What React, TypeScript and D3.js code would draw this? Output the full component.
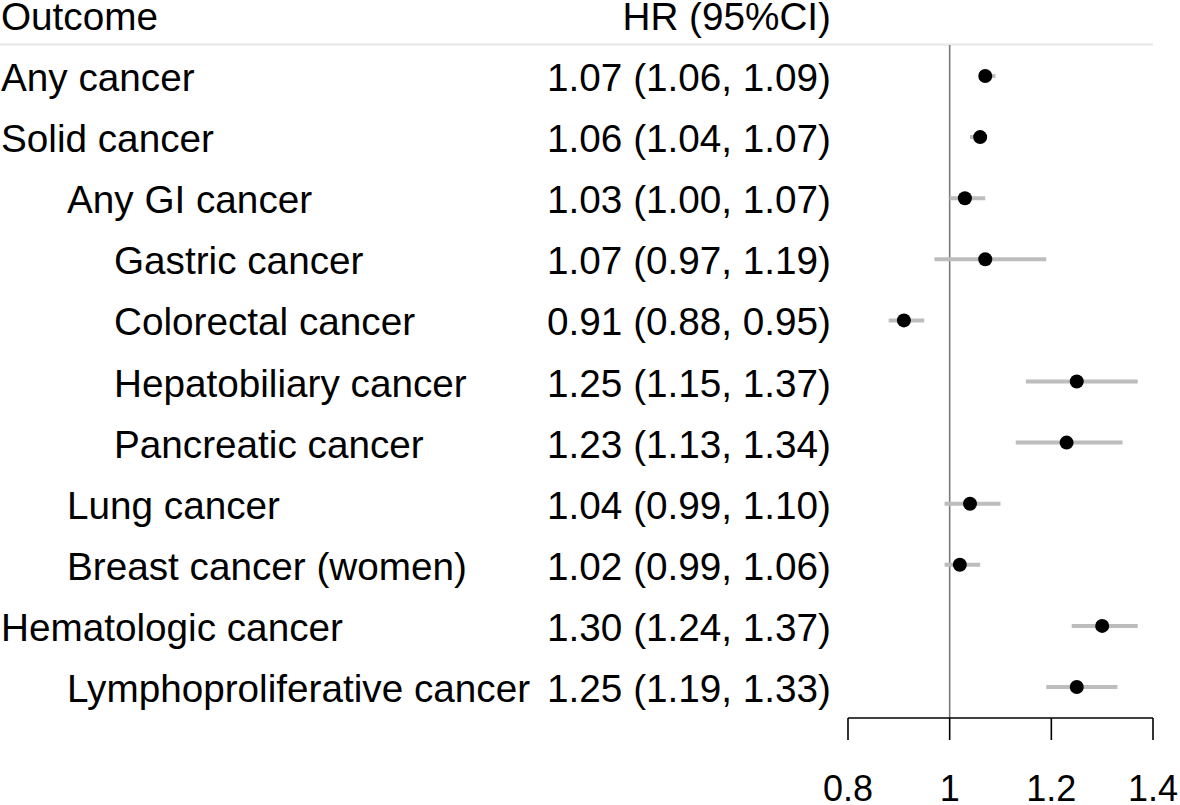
import React from "react";
import * as d3 from "d3";

const outcomes = [
  "Any cancer",
  "Solid cancer",
  "Any GI cancer",
  "Gastric cancer",
  "Colorectal cancer",
  "Hepatobiliary cancer",
  "Pancreatic cancer",
  "Lung cancer",
  "Breast cancer (women)",
  "Hematologic cancer",
  "Lymphoproliferative cancer",
];
const indentLevels = [0, 0, 1, 2, 2, 2, 2, 1, 1, 0, 1];
const hr = [1.07, 1.06, 1.03, 1.07, 0.91, 1.25, 1.23, 1.04, 1.02, 1.3, 1.25];
const lower = [1.06, 1.04, 1.0, 0.97, 0.88, 1.15, 1.13, 0.99, 0.99, 1.24, 1.19];
const upper = [1.09, 1.07, 1.07, 1.19, 0.95, 1.37, 1.34, 1.1, 1.06, 1.37, 1.33];
const hrLabels = [
  "1.07 (1.06, 1.09)",
  "1.06 (1.04, 1.07)",
  "1.03 (1.00, 1.07)",
  "1.07 (0.97, 1.19)",
  "0.91 (0.88, 0.95)",
  "1.25 (1.15, 1.37)",
  "1.23 (1.13, 1.34)",
  "1.04 (0.99, 1.10)",
  "1.02 (0.99, 1.06)",
  "1.30 (1.24, 1.37)",
  "1.25 (1.19, 1.33)",
];
const xTicks = [0.8, 1, 1.2, 1.4];
const headers = ["Outcome", "HR (95%CI)"];

const W = 1180;
const H = 805;
const FONT = "'Liberation Sans', Arial, Helvetica, sans-serif";

export default function App() {
  const n = outcomes.length;
  const x = d3.scaleLinear().domain([0.8, 1.4]).range([848, 1153]);
  const y = d3.scaleLinear().domain([0, n - 1]).range([76, 76 + 61.1 * (n - 1)]);
  const indentX = d3.scaleOrdinal<number, number>().domain([0, 1, 2]).range([1, 67, 114]);
  const axisY = 718;
  const tickLen = 22;
  const fmt = (v: number) => (v === 1 ? "1" : d3.format(".1f")(v));
  const fs = 38.7;

  return (
    <svg
      width={W}
      height={H}
      style={{ position: "absolute", left: 0, top: 0, display: "block", background: "#fff" }}
      fontFamily={FONT}
    >
      <rect x={0} y={0} width={W} height={H} fill="#fff" />
      {/* header */}
      <text x={1} y={30} fontSize={fs} fill="#000">
        {headers[0]}
      </text>
      <text x={831} y={30} fontSize={fs} fill="#000" textAnchor="end">
        {headers[1]}
      </text>
      <line x1={0} x2={1153} y1={44.5} y2={44.5} stroke="#eaeaea" strokeWidth={2.5} />

      {/* reference line */}
      <line x1={x(1)} x2={x(1)} y1={45} y2={axisY} stroke="#7a7a7a" strokeWidth={1.6} />

      {/* rows */}
      {outcomes.map((name, i) => (
        <g key={name}>
          <text x={indentX(indentLevels[i])} y={y(i) + 15} fontSize={fs} fill="#000">
            {name}
          </text>
          <text x={831} y={y(i) + 15} fontSize={fs} fill="#000" textAnchor="end">
            {hrLabels[i]}
          </text>
          <line
            x1={x(lower[i])}
            x2={x(upper[i])}
            y1={y(i)}
            y2={y(i)}
            stroke="#bdbdbd"
            strokeWidth={4}
          />
          <circle cx={x(hr[i])} cy={y(i)} r={7} fill="#000" />
        </g>
      ))}

      {/* x axis */}
      <line x1={x(0.8)} x2={x(1.4)} y1={axisY} y2={axisY} stroke="#000" strokeWidth={1.6} />
      {xTicks.map((t) => (
        <g key={t}>
          <line x1={x(t)} x2={x(t)} y1={axisY} y2={axisY + tickLen} stroke="#000" strokeWidth={1.6} />
          <text x={x(t)} y={801} fontSize={36} textAnchor="middle" fill="#000">
            {fmt(t)}
          </text>
        </g>
      ))}
    </svg>
  );
}
